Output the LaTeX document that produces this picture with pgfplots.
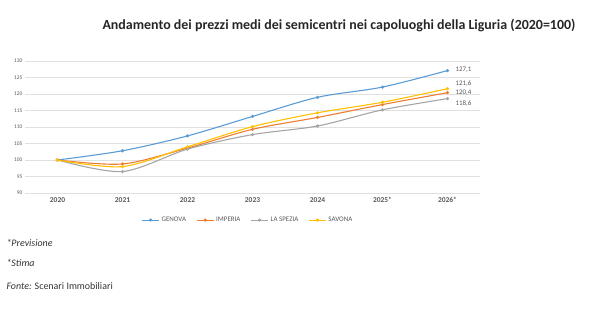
\documentclass[border=0pt]{standalone}
\usepackage{pgfplots}
\pgfplotsset{compat=1.18}
\usepackage{fontspec}
\setmainfont{Carlito}
\definecolor{cblue}{HTML}{5B9BD5}
\definecolor{corange}{HTML}{ED7D31}
\definecolor{cgray}{HTML}{A5A5A5}
\definecolor{cyellow}{HTML}{FFC000}
\definecolor{txt}{HTML}{595959}
\begin{document}
\begin{tikzpicture}
\path (0,0) rectangle (600bp,334bp);
\node[font=\fontsize{14}{16}\selectfont\bfseries, text=black!85] at (339bp,308bp) {Andamento dei prezzi medi dei semicentri nei capoluoghi della Liguria (2020=100)};
\node[anchor=west, font=\fontsize{10}{12}\selectfont\itshape, text=black!80] at (3bp,91bp) {*Previsione};
\node[anchor=west, font=\fontsize{10}{12}\selectfont\itshape, text=black!80] at (3bp,71bp) {*Stima};
\node[anchor=west, font=\fontsize{10}{12}\selectfont, text=black!80] at (3bp,48bp) {\textit{Fonte:} Scenari Immobiliari};
\begin{axis}[
  at={(25bp,141bp)}, anchor=south west,
  scale only axis, width=455bp, height=132bp,
  xmin=-0.5, xmax=6.5, ymin=90, ymax=130,
  axis line style={draw=none},
  tick style={draw=none},
  ymajorgrids, grid style={black!12, line width=0.5pt},
  ytick={90,95,...,130},
  xtick={0,...,6},
  xticklabels={2020,2021,2022,2023,2024,2025*,2026*},
  /pgf/number format/assume math mode=true,
  yticklabel style={font=\fontsize{5.5}{6}\selectfont, text=txt, xshift=1bp},
  xticklabel style={font=\fontsize{7.5}{9}\selectfont\bfseries, text=txt, yshift=-1bp},
  legend columns=4,
  legend style={at={(0.49,-0.205)}, anchor=center, draw=none, fill=none,
    font=\fontsize{7}{8}\selectfont, text=txt,
    /tikz/every even column/.append style={column sep=8bp}},
  legend image code/.code={\draw[#1, mark repeat=2, mark phase=2] plot coordinates {(0cm,0cm) (0.3cm,0cm) (0.6cm,0cm)};},
  every axis plot/.append style={line width=1.1pt, smooth, tension=0.5, mark=*, mark size=1pt},
  clip=false,
]
\addplot[cblue, mark options={fill=cblue}] coordinates {(0,100) (1,102.8) (2,107.3) (3,113.2) (4,119.0) (5,122.1) (6,127.1)};
\addlegendentry{GENOVA}
\addplot[corange, mark options={fill=corange}] coordinates {(0,100) (1,98.8) (2,103.6) (3,109.3) (4,112.9) (5,116.8) (6,120.4)};
\addlegendentry{IMPERIA}
\addplot[cgray, mark options={fill=cgray}] coordinates {(0,100) (1,96.5) (2,103.3) (3,107.7) (4,110.3) (5,115.2) (6,118.6)};
\addlegendentry{LA SPEZIA}
\addplot[cyellow, mark options={fill=cyellow}] coordinates {(0,100) (1,98.0) (2,104.0) (3,110.1) (4,114.3) (5,117.5) (6,121.6)};
\addlegendentry{SAVONA}
\node[anchor=west, font=\fontsize{7}{8}\selectfont, text=txt] at (axis cs:6.07,127.3) {127,1};
\node[anchor=west, font=\fontsize{7}{8}\selectfont, text=txt] at (axis cs:6.07,123.3) {121,6};
\node[anchor=west, font=\fontsize{7}{8}\selectfont, text=txt] at (axis cs:6.07,120.3) {120,4};
\node[anchor=west, font=\fontsize{7}{8}\selectfont, text=txt] at (axis cs:6.07,117.0) {118,6};
\end{axis}
\end{tikzpicture}
\end{document}
